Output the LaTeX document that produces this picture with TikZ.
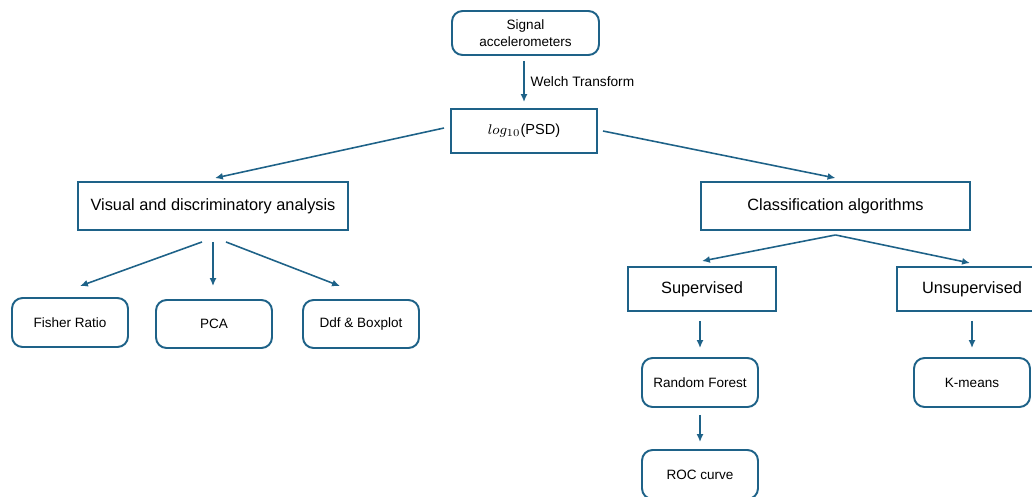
\documentclass[tikz,border=0pt]{standalone}
\usepackage{fontspec}
\setmainfont{Liberation Sans}
\usetikzlibrary{arrows.meta}

\definecolor{bordo}{RGB}{30,98,136}

\tikzset{
    box/.style={draw=bordo, line width=1.1pt, align=center, inner sep=0pt,
        font=\fontsize{9.3}{11}\selectfont},
    tondo/.style={box, rounded corners=6pt, font=\fontsize{7.7}{10}\selectfont},
    freccia/.style={draw=bordo, line width=0.9pt, -{Latex[length=4.5pt,width=4pt]}}
}

\begin{document}
\begin{tikzpicture}[x=0.02cm, y=-0.02cm]
        % Cornice
        \clip (0,0) rectangle (1032,497);
        % Nodi in alto
        \node[tondo, minimum width=2.94cm, minimum height=0.88cm] (signal) at (525.5,33) {Signal\\accelerometers};
        \node[box, minimum width=2.92cm, minimum height=0.88cm, font=\fontsize{8.3}{10}\selectfont] (psd) at (524,131) {$log_{10}$(PSD)};
        \node[box, minimum width=5.4cm, minimum height=0.96cm] (visual) at (213,206) {Visual and discriminatory analysis};
        \node[box, minimum width=5.38cm, minimum height=0.96cm] (class) at (835.5,206) {Classification algorithms};
        % Ramo sinistro
        \node[tondo, minimum width=2.32cm, minimum height=0.98cm] (fisher) at (70,322.5) {Fisher Ratio};
        \node[tondo, minimum width=2.32cm, minimum height=0.96cm] (pca) at (214,324) {PCA};
        \node[tondo, minimum width=2.32cm, minimum height=0.96cm] (ddf) at (361,324) {Ddf \& Boxplot};
        % Ramo destro
        \node[box, minimum width=2.96cm, minimum height=0.88cm] (sup) at (702,289) {Supervised};
        \node[box, minimum width=3.0cm, minimum height=0.88cm] (unsup) at (972,289) {Unsupervised};
        \node[tondo, minimum width=2.32cm, minimum height=0.98cm] (rf) at (700,382.5) {Random Forest};
        \node[tondo, minimum width=2.32cm, minimum height=0.98cm] (kmeans) at (972,382.5) {K-means};
        \node[tondo, minimum width=2.32cm, minimum height=0.98cm] (roc) at (700,474.5) {ROC curve};
        % Frecce
        \draw[freccia, shorten <=0.1cm, shorten >=0.12cm] (signal.south -| psd.north) -- (psd.north)
            node[midway, right=0pt, font=\fontsize{7.8}{10}\selectfont] {Welch Transform};
        \draw[freccia] ([xshift=-0.12cm,yshift=0.06cm]psd.west) -- ([xshift=0.04cm,yshift=0.06cm]visual.north);
        \draw[freccia] ([xshift=0.1cm]psd.east) -- ([yshift=0.06cm]class.north);
        \draw[freccia] ([xshift=-0.22cm,yshift=-0.22cm]visual.south) -- ([xshift=0.2cm,yshift=0.22cm]fisher.north);
        \draw[freccia] ([yshift=-0.22cm]visual.south) -- ([yshift=0.26cm]visual.south |- pca.north);
        \draw[freccia] ([xshift=0.26cm,yshift=-0.22cm]visual.south) -- ([xshift=-0.42cm,yshift=0.26cm]ddf.north);
        \draw[freccia] ([yshift=-0.08cm]class.south) -- ([yshift=0.1cm]sup.north);
        \draw[freccia] ([yshift=-0.08cm]class.south) -- ([xshift=-0.04cm,yshift=0.06cm]unsup.north);
        \draw[freccia, shorten <=0.18cm, shorten >=0.18cm] (sup.south -| rf.north) -- (rf.north);
        \draw[freccia, shorten <=0.18cm, shorten >=0.18cm] (unsup.south) -- (kmeans.north);
        \draw[freccia, shorten <=0.14cm, shorten >=0.14cm] (rf.south) -- (roc.north);
    \end{tikzpicture}
\end{document}
